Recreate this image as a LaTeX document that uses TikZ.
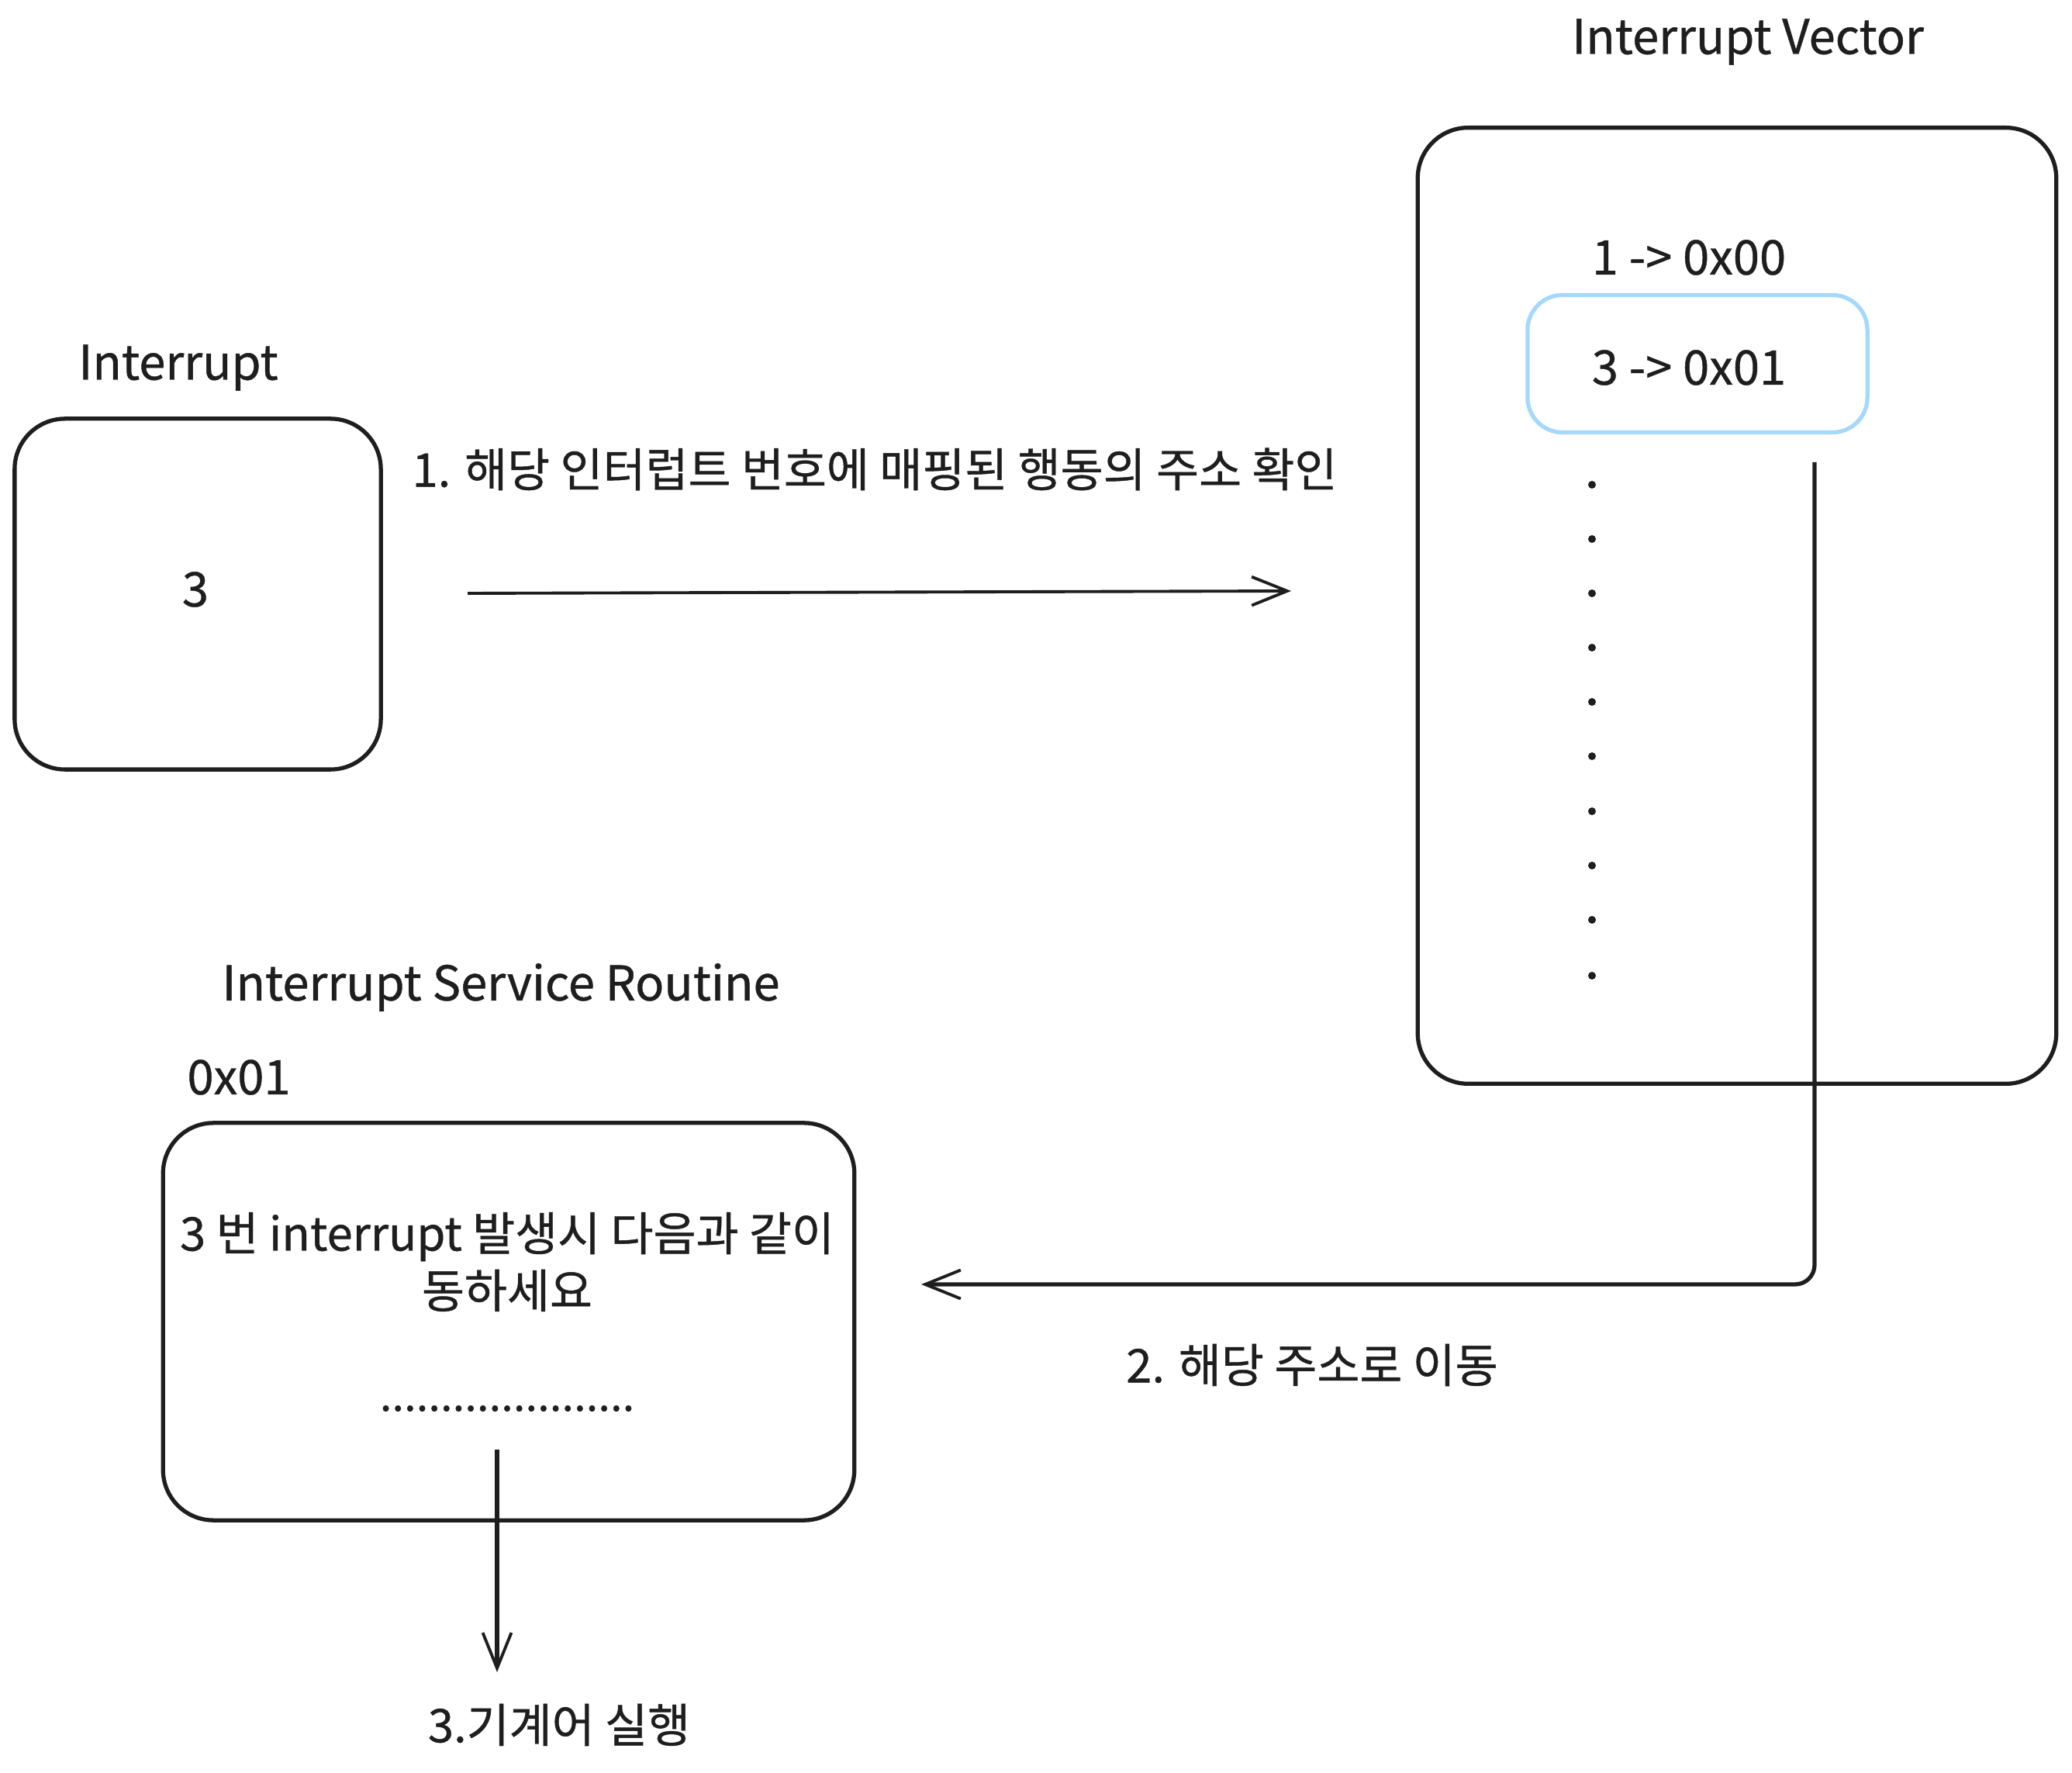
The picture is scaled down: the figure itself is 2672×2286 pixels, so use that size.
\documentclass[tikz,border=0pt]{standalone}
\usepackage{fontspec}
\setmainfont{Noto Sans CJK KR}[FakeBold=0.7]
\usetikzlibrary{arrows.meta}
\definecolor{ink}{HTML}{1E1E1E}
\definecolor{skyline}{HTML}{A5D8FF}
\begin{document}
\begin{tikzpicture}[x=0.01cm,y=-0.01cm,
  box/.style={draw=ink, line width=1.5pt, rounded corners=0.65cm, inner sep=0pt},
  bluebox/.style={draw=skyline, line width=1.5pt, rounded corners=0.45cm, inner sep=0pt},
  lbl/.style={text=ink, font=\fontsize{17.5}{21}\selectfont, inner sep=0pt},
  klbl/.style={text=ink, font=\fontsize{17}{21}\selectfont, inner sep=0pt},
  dlbl/.style={text=ink, font=\fontsize{16}{20}\selectfont, inner sep=0pt},
  conn/.style={draw=ink, line width=1.1pt, -{Straight Barb[length=13pt,width=10.5pt,line width=1.1pt]}},
  thick conn/.style={conn, line width=1.5pt},
  vdot/.style={circle, fill=ink, inner sep=0pt, minimum size=0.1cm},
]
\useasboundingbox (0,0) rectangle (2672,2286);

% Interrupt
\node[lbl] (intTitle) at (230,474) {Interrupt};
\node[box, minimum width=4.72cm, minimum height=4.52cm] (intBox) at (255,766) {};
\node[lbl] (intNum) at (252,760) {3};

% Interrupt Vector
\node[lbl] (vecTitle) at (2254,54) {Interrupt Vector};
\node[box, minimum width=8.23cm, minimum height=12.32cm] (vecBox) at (2240,781) {};
\node[lbl] (vecRow1) at (2178,332) {1 -> 0x00};
\node[bluebox, minimum width=4.38cm, minimum height=1.77cm] (vecSel) at (2189,469) {};
\node[lbl] (vecRow3) at (2178,474) {3 -> 0x01};
\foreach \i/\yy in {1/625,2/695,3/765,4/835,5/905,6/975,7/1046,8/1116,9/1186,10/1258}
  \node[vdot] (vd\i) at (2053,\yy) {};

% ISR
\node[lbl] (isrTitle) at (646,1273) {Interrupt Service Routine};
\node[lbl] (isrAddr) at (308,1389) {0x01};
\node[box, minimum width=8.91cm, minimum height=5.12cm] (isrBox) at (656,1704) {};
\node[klbl, align=center] (isrText) at (654,1627) {3 번 interrupt 발생시 다음과 같이\\동하세요};
\node[dlbl] (isrDots) at (654,1816) {.....................};

% Step labels
\node[klbl] (step1) at (1128,605) {1. 해당 인터럽트 번호에 매핑된 행동의 주소 확인};
\node[klbl] (step2) at (1692,1760) {2. 해당 주소로 이동};
\node[klbl] (step3) at (721,2224) {3.기계어 실행};

% Connectors
\coordinate (a1s) at (603,765);
\coordinate (a1e) at (1665,762);
\draw[conn] (a1s) -- (a1e);

\coordinate (a2s) at (2340,596);
\coordinate (a2c) at (2340,1656);
\coordinate (a2e) at (1188,1656);
\draw[thick conn, rounded corners=0.25cm] (a2s) -- (a2c) -- (a2e);

\coordinate (a3s) at (641,1869);
\coordinate (a3e) at (641,2156);
\draw[thick conn] (a3s) -- (a3e);
\end{tikzpicture}
\end{document}
